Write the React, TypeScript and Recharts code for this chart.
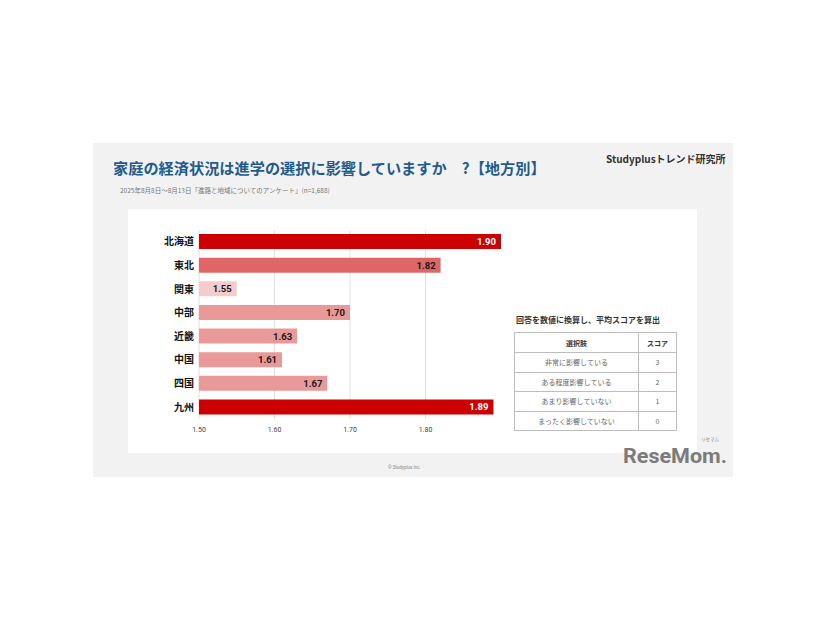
import React from 'react';
import { BarChart, Bar, XAxis, YAxis, CartesianGrid, Cell, LabelList } from 'recharts';

const regions = ['北海道', '東北', '関東', '中部', '近畿', '中国', '四国', '九州'];
const scores = [1.9, 1.82, 1.55, 1.7, 1.63, 1.61, 1.67, 1.89];
const xTicks = [1.5, 1.6, 1.7, 1.8];
const xDomain = [1.5, 1.9];

const choiceLabels = ['非常に影響している', 'ある程度影響している', 'あまり影響していない', 'まったく影響していない'];
const choiceScores = [3, 2, 1, 0];

const barColors = ['#cc0000', '#e06666', '#f4cccc', '#ea9999', '#ea9999', '#ea9999', '#ea9999', '#cc0000'];
const labelColors = ['#ffffff', '#1a1a1a', '#1a1a1a', '#1a1a1a', '#1a1a1a', '#1a1a1a', '#1a1a1a', '#ffffff'];

const data = regions.map((r, i) => ({ region: r, score: scores[i], idx: i }));

const JP = "'Noto Sans CJK JP', 'Noto Sans', sans-serif";
const NUM = "Roboto, 'Noto Sans CJK JP', sans-serif";

const ValueLabel = (props: any) => {
  const { x, y, width, height, value, index } = props;
  const i = typeof index === 'number' ? index : scores.indexOf(value);
  return (
    <text
      x={Number(x) + Number(width) - 5}
      y={Number(y) + Number(height) / 2}
      textAnchor="end"
      dominantBaseline="central"
      fontFamily={NUM}
      fontWeight={700}
      fontSize={9.5}
      fill={labelColors[i] || '#1a1a1a'}
    >
      {Number(value).toFixed(2)}
    </text>
  );
};

export default function App() {
  return (
    <div style={{ position: 'absolute', left: 0, top: 0, width: 826, height: 620, background: '#ffffff', overflow: 'hidden' }}>
      {/* gray panel */}
      <div style={{ position: 'absolute', left: 93, top: 143, width: 640, height: 334, background: '#f2f2f2' }} />
      {/* white card */}
      <div style={{ position: 'absolute', left: 128, top: 209, width: 569, height: 244, background: '#ffffff' }} />

      <div style={{ position: 'absolute', left: 113, top: 157, fontFamily: JP, fontWeight: 700, fontSize: 15.2, color: '#1f5c8e', whiteSpace: 'nowrap', lineHeight: '20px' }}>
        家庭の経済状況は進学の選択に影響していますか　?【地方別】
      </div>
      <div style={{ position: 'absolute', left: 120, top: 185, fontFamily: JP, fontSize: 6.5, color: '#777', whiteSpace: 'nowrap', lineHeight: '10px' }}>
        2025年8月8日～8月13日「進路と地域についてのアンケート」(n=1,688)
      </div>
      <div style={{ position: 'absolute', left: 606, top: 152, fontFamily: JP, fontWeight: 700, fontSize: 10, color: '#333', whiteSpace: 'nowrap', lineHeight: '14px' }}>
        Studyplusトレンド研究所
      </div>

      <div style={{ position: 'absolute', left: 120, top: 220 }}>
        <BarChart
          width={400}
          height={225}
          data={data}
          layout="vertical"
          margin={{ top: 10, right: 19, bottom: 0, left: 0 }}
        >
          <CartesianGrid horizontal={false} syncWithTicks stroke="#e0e0e0" strokeWidth={1} />
          <XAxis
            type="number"
            domain={xDomain}
            ticks={xTicks}
            allowDataOverflow
            axisLine={false}
            tickLine={false}
            tickSize={6}
            tickMargin={2}
            height={26}
            tickFormatter={(v: number) => v.toFixed(2)}
            tick={{ fontSize: 7, fill: '#444', fontFamily: NUM }}
          />
          <YAxis
            type="category"
            dataKey="region"
            width={79}
            axisLine={false}
            tickLine={false}
            tickSize={5}
            tickMargin={0}
            tick={{ fontSize: 10, fill: '#111', fontWeight: 700, fontFamily: JP }}
          />
          <Bar dataKey="score" barSize={15} isAnimationActive={false}>
            {data.map((d, i) => (
              <Cell key={d.region} fill={barColors[i]} />
            ))}
            <LabelList dataKey="score" content={<ValueLabel />} />
          </Bar>
        </BarChart>
      </div>

      {/* scoring table */}
      <div style={{ position: 'absolute', left: 516, top: 314, fontFamily: JP, fontWeight: 700, fontSize: 8, color: '#333', whiteSpace: 'nowrap', lineHeight: '12px' }}>
        回答を数値に換算し、平均スコアを算出
      </div>
      <table
        style={{
          position: 'absolute',
          left: 514,
          top: 332,
          width: 163,
          borderCollapse: 'collapse',
          fontFamily: JP,
          fontSize: 7,
          color: '#666',
        }}
      >
        <tbody>
          <tr style={{ height: 20 }}>
            <td style={{ border: '1px solid #bdbdbd', width: 123, textAlign: 'center', fontWeight: 700, color: '#333', padding: 0 }}>選択肢</td>
            <td style={{ border: '1px solid #bdbdbd', textAlign: 'center', fontWeight: 700, color: '#333', padding: 0 }}>スコア</td>
          </tr>
          {choiceLabels.map((c, i) => (
            <tr key={c} style={{ height: 19.5 }}>
              <td style={{ border: '1px solid #bdbdbd', textAlign: 'center', padding: 0 }}>{c}</td>
              <td style={{ border: '1px solid #bdbdbd', textAlign: 'center', padding: 0 }}>{choiceScores[i]}</td>
            </tr>
          ))}
        </tbody>
      </table>

      <div style={{ position: 'absolute', left: 388, top: 465, fontFamily: NUM, fontSize: 4.5, color: '#888', whiteSpace: 'nowrap', lineHeight: '6px' }}>
        © Studyplus Inc.
      </div>

      {/* logo */}
      <svg style={{ position: 'absolute', left: 618, top: 436 }} width={112} height={32}>
        <text x={92} y={5} fontFamily={JP} fontSize={4.5} fill="#888" textAnchor="middle">リセマム</text>
        <text x={5} y={27} fontFamily={NUM} fontWeight={700} fontSize={21} fill="#7b7b7b" textLength={104} lengthAdjust="spacingAndGlyphs">ReseMom.</text>
      </svg>
    </div>
  );
}
